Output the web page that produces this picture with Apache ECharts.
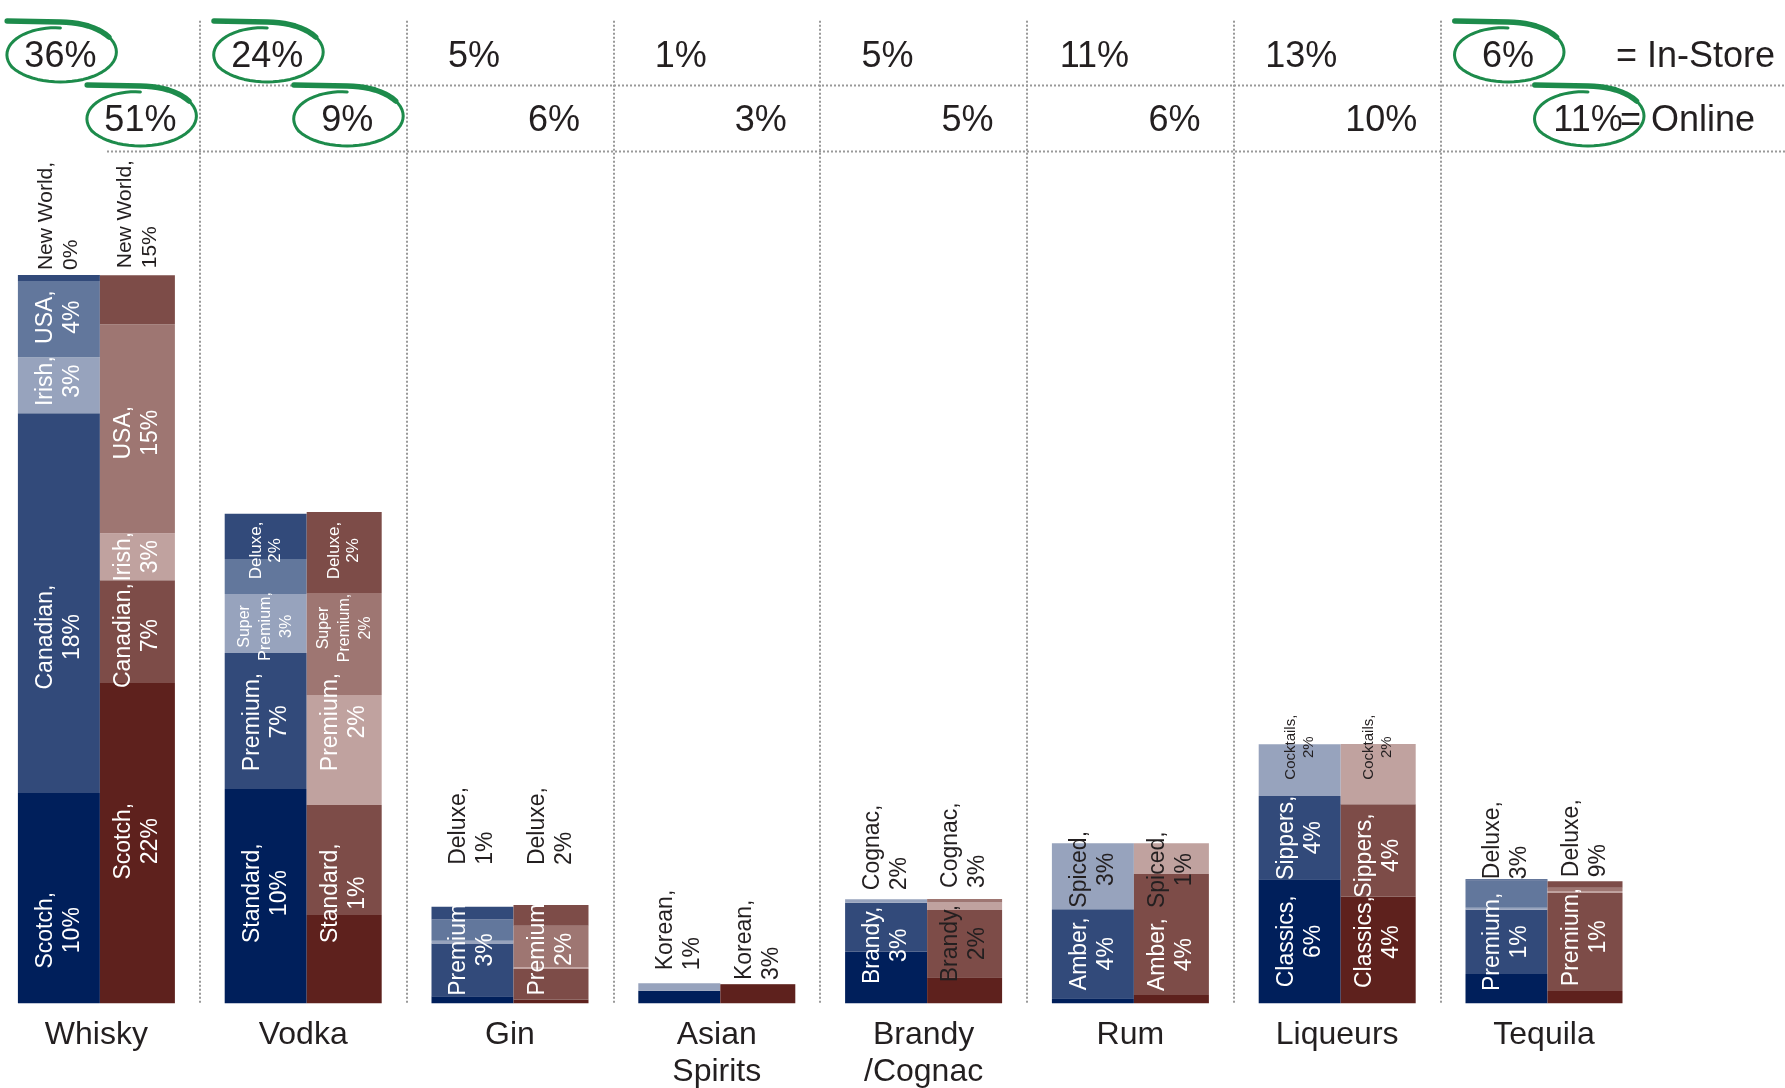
<!DOCTYPE html>
<html>
<head>
<meta charset="utf-8">
<title>Spirits share: in-store vs online</title>
<script src="https://cdn.jsdelivr.net/npm/echarts@6/dist/echarts.min.js"></script>
<style>
html, body { margin: 0; padding: 0; background: #fff; }
#main { width: 1785px; height: 1088px; }
</style>
</head>
<body>
<div id="main"></div>
<script>
var categories = ['Whisky', 'Vodka', 'Gin', 'Asian\nSpirits', 'Brandy\n/Cognac', 'Rum', 'Liqueurs', 'Tequila'];
var inStoreShare = ['36%', '24%', '5%', '1%', '5%', '11%', '13%', '6%'];
var onlineShare = ['51%', '9%', '6%', '3%', '5%', '6%', '10%', '11%'];
// cells circled in green: [category index, row]
var circled = [[0, 'in'], [0, 'on'], [1, 'in'], [1, 'on'], [7, 'in'], [7, 'on']];

// stacked tiers, bottom (T1) to top (T5), one value per category
var inStoreT1 = [10.40, 10.60, 0.35, 0.62, 2.55, 0.25, 6.13, 1.45];
var inStoreT2 = [18.79, 6.73, 2.61, 0, 2.42, 4.40, 4.12, 3.18];
var inStoreT3 = [2.77, 2.92, 0.13, 0.37, 0.18, 3.26, 2.56, 0.10];
var inStoreT4 = [3.76, 1.73, 1.06, 0, 0, 0, 0, 1.34];
var inStoreT5 = [0.30, 2.23, 0.62, 0, 0, 0, 0, 0.07];

var onlineT1 = [15.84, 4.37, 0.17, 0.90, 1.29, 0.41, 5.27, 0.61];
var onlineT2 = [5.09, 5.44, 1.53, 0.05, 3.33, 5.98, 4.58, 4.85];
var onlineT3 = [2.32, 5.44, 0.08, 0, 0.36, 1.52, 2.97, 0.10];
var onlineT4 = [10.34, 5.04, 2.06, 0, 0.18, 0, 0, 0.15];
var onlineT5 = [2.42, 4.01, 1.02, 0, 0, 0, 0, 0.33];

// segment labels per category: [tier, text], tier 'top' = above the bar
var inStoreLabels = [
    [[1, 'Scotch,\n10%'], [2, 'Canadian,\n18%'], [3, 'Irish,\n3%'], [4, 'USA,\n4%'], ['top', 'New World,\n0%']],
    [[1, 'Standard,\n10%'], [2, 'Premium,\n7%'], [3, 'Super\nPremium,\n3%'], [5, 'Deluxe,\n2%']],
    [[2, 'Premium\n3%'], ['top', 'Deluxe,\n1%']],
    [['top', 'Korean,\n1%']],
    [[2, 'Brandy,\n3%'], ['top', 'Cognac,\n2%']],
    [[2, 'Amber,\n4%'], [3, 'Spiced,\n3%']],
    [[1, 'Classics,\n6%'], [2, 'Sippers,\n4%'], [3, 'Cocktails,\n2%']],
    [[2, 'Premium,\n1%'], ['top', 'Deluxe,\n3%']]
];
var onlineLabels = [
    [[1, 'Scotch,\n22%'], [2, 'Canadian,\n7%'], [3, 'Irish,\n3%'], [4, 'USA,\n15%'], ['top', 'New World,\n15%']],
    [[1, 'Standard,\n1%'], [3, 'Premium,\n2%'], [4, 'Super\nPremium,\n2%'], [5, 'Deluxe,\n2%']],
    [[4, 'Premium\n2%'], ['top', 'Deluxe,\n2%']],
    [['top', 'Korean,\n3%']],
    [[2, 'Brandy,\n2%'], ['top', 'Cognac,\n3%']],
    [[2, 'Amber,\n4%'], [3, 'Spiced,\n1%']],
    [[1, 'Classics,\n4%'], [2, 'Sippers,\n4%'], [3, 'Cocktails,\n2%']],
    [[2, 'Premium,\n1%'], ['top', 'Deluxe,\n9%']]
];

var FONT = '"Liberation Sans", Arial, sans-serif';
var DARK = '#231f20';
var blues = ['#001f5b', '#324a7a', '#97a3bd', '#62779c', '#324a7a'];
var reds = ['#5e211d', '#7d4c48', '#c0a29f', '#9e7672', '#7d4c48'];

// label placement tweaks: dy = shift down (px), dist = gap above bar
var tweaks = {
    '0|in|1': {dy: 32}, '0|in|2': {dy: 34}, '0|in|3': {dy: -4}, '0|in|4': {dy: -2},
    '0|in|top': {dist: 5, size: 21, lh: 25}, '0|on|1': {dy: -2}, '0|on|2': {dy: 4},
    '0|on|4': {dy: 4}, '0|on|top': {dist: 7, size: 21, lh: 25},
    '1|in|1': {dy: -3}, '1|in|2': {dy: 1}, '1|in|3': {dy: 3, size: 16, lh: 21}, '1|in|5': {dy: 14, size: 17, lh: 19},
    '1|on|1': {dy: -66}, '1|on|3': {dy: -28}, '1|on|4': {dy: -16, size: 16, lh: 21}, '1|on|5': {dy: -2, size: 17, lh: 19},
    '2|in|2': {dy: -20}, '2|in|top': {dist: 42}, '2|on|4': {dy: 3}, '2|on|top': {dist: 40},
    '3|in|top': {dist: 13}, '3|on|top': {dist: 4},
    '4|in|2': {dy: 18}, '4|in|top': {dist: 9}, '4|on|2': {color: DARK}, '4|on|top': {dist: 11},
    '5|in|3': {dy: -7, color: DARK}, '5|on|2': {dy: 20}, '5|on|3': {dy: 11, color: DARK},
    '6|in|3': {dy: -23, color: DARK, size: 15, lh: 18}, '6|on|1': {dy: -8}, '6|on|2': {dy: 5},
    '6|on|3': {dy: -27, color: DARK, size: 15, lh: 18},
    '7|in|top': {dist: 0}, '7|on|2': {dy: -5}, '7|on|top': {dist: 4}
};

function makeLabel(text, isTop, tw) {
    tw = tw || {};
    var lab = {
        show: true, formatter: text, rotate: 90,
        fontFamily: FONT, fontSize: tw.size || 23, lineHeight: tw.lh || 27,
        color: tw.color || (isTop ? DARK : '#fff')
    };
    if (isTop) {
        lab.position = 'top';
        lab.distance = tw.dist || 0;
        lab.align = 'left';
        lab.verticalAlign = 'middle';
    } else {
        lab.position = 'inside';
        lab.align = 'center';
        lab.verticalAlign = 'middle';
        lab.offset = [-(tw.dy || 0), 0];
    }
    return lab;
}

function buildSeries(tiers, labels, stack, colors, width, ch) {
    return tiers.map(function (vals, t) {
        return {
            type: 'bar',
            stack: stack,
            barWidth: width,
            barGap: '0%',
            itemStyle: {color: colors[t]},
            data: vals.map(function (v, c) {
                var item = {value: v};
                var topTier = 0;
                tiers.forEach(function (arr, k) { if (arr[c] > 0) topTier = k; });
                labels[c].forEach(function (l) {
                    if (l[0] === t + 1) {
                        item.label = makeLabel(l[1], false, tweaks[c + '|' + ch + '|' + l[0]]);
                    } else if (l[0] === 'top' && t === topTier) {
                        item.label = makeLabel(l[1], true, tweaks[c + '|' + ch + '|top']);
                    }
                });
                return item;
            })
        };
    });
}

var series = buildSeries([inStoreT1, inStoreT2, inStoreT3, inStoreT4, inStoreT5], inStoreLabels, 'in', blues, 82, 'in')
    .concat(buildSeries([onlineT1, onlineT2, onlineT3, onlineT4, onlineT5], onlineLabels, 'on', reds, 75, 'on'));

var option = {
    animation: false,
    grid: {left: -7, right: 137.6, top: 20.7, bottom: 84.7, outerBoundsMode: 'none', containLabel: false},
    xAxis: {
        type: 'category',
        data: categories,
        axisLine: {show: false},
        axisTick: {show: false},
        axisLabel: {fontFamily: FONT, fontSize: 32, lineHeight: 37, color: DARK, margin: 13, interval: 0},
        splitLine: {
            show: true, showMinLine: false, showMaxLine: false,
            lineStyle: {color: '#999', width: 2, type: [2, 2]}
        }
    },
    yAxis: {type: 'value', min: 0, max: 48.6, show: false},
    series: series
};

var chart = echarts.init(document.getElementById('main'));
chart.setOption(option);

// header rows with channel shares, dotted rules and green circles
function loop(cx, cy, rx, ry) {
    var lead = [[cx - rx * 0.95, cy - ry - 1]];
    var all = [];
    for (var d = -90; d <= 272; d += 6) {
        var a = d * Math.PI / 180;
        var k = d <= 150 ? 1 : 1 - 0.2 * (d - 150) / 122;
        var p = [cx + rx * k * Math.cos(a), cy + ry * k * Math.sin(a)];
        all.push(p);
        if (d <= -30) lead.push(p);
    }
    return {lead: lead, all: [lead[0]].concat(all)};
}

var graphics = [];
var rowY = {in: 57, on: 121};
var rowDx = {in: -36, on: 44};
var centers = categories.map(function (c, i) { return chart.convertToPixel({xAxisIndex: 0}, i); });
graphics.push({type: 'line', shape: {x1: 90, y1: 85.5, x2: 1785, y2: 85.5},
    style: {stroke: '#999', lineWidth: 2, lineDash: [2, 2]}});
graphics.push({type: 'line', shape: {x1: 107, y1: 151.5, x2: 1785, y2: 151.5},
    style: {stroke: '#999', lineWidth: 2, lineDash: [2, 2]}});
centers.forEach(function (cx, i) {
    graphics.push({type: 'text', x: cx + rowDx.in, y: rowY.in,
        style: {text: inStoreShare[i], font: '36px ' + FONT, fill: DARK, align: 'center', verticalAlign: 'middle'}});
    graphics.push({type: 'text', x: cx + rowDx.on, y: rowY.on,
        style: {text: onlineShare[i], font: '36px ' + FONT, fill: DARK, align: 'center', verticalAlign: 'middle'}});
});
var last = centers[centers.length - 1];
graphics.push({type: 'text', x: last + 72, y: rowY.in,
    style: {text: '= In-Store', font: '36px ' + FONT, fill: DARK, align: 'left', verticalAlign: 'middle'}});
graphics.push({type: 'text', x: last + 76, y: rowY.on,
    style: {text: '= Online', font: '36px ' + FONT, fill: DARK, align: 'left', verticalAlign: 'middle'}});
circled.forEach(function (c) {
    var l = loop(centers[c[0]] + rowDx[c[1]], rowY[c[1]] - 5, 56, 30);
    graphics.push({type: 'polyline', z: 10, shape: {points: l.all},
        style: {stroke: '#1d8b4b', lineWidth: 3, fill: null, lineCap: 'round', lineJoin: 'round'}});
    graphics.push({type: 'polyline', z: 10, shape: {points: l.lead},
        style: {stroke: '#1d8b4b', lineWidth: 5.5, fill: null, lineCap: 'round', lineJoin: 'round'}});
});
chart.setOption({graphic: graphics});
</script>
</body>
</html>
